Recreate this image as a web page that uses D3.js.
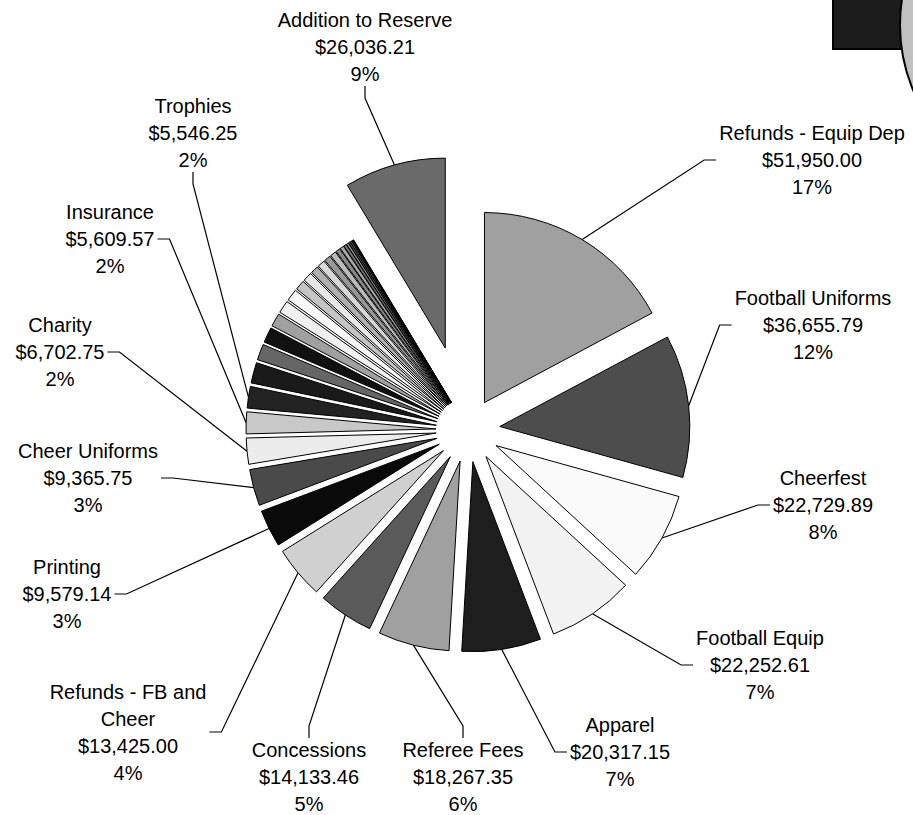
<!DOCTYPE html>
<html><head><meta charset="utf-8">
<script src="https://cdn.jsdelivr.net/npm/d3@7"></script>
<style>
body{margin:0;background:#fff}
svg{display:block}
text{font-family:"Liberation Sans",Arial,sans-serif;font-size:20px;fill:#000}
</style>
</head><body>
<svg id="chart" width="913" height="815"></svg>
<script>
// ---- data ----
const categories = [
  "Refunds - Equip Dep","Football Uniforms","Cheerfest","Football Equip","Apparel",
  "Referee Fees","Concessions","Refunds - FB and Cheer","Printing","Cheer Uniforms",
  "Charity","Insurance","Trophies",
  "Other 1","Other 2","Other 3","Other 4","Other 5","Other 6","Other 7","Other 8",
  "Other 9","Other 10","Other 11","Other 12","Other 13","Other 14","Other 15","Other 16",
  "Other 17","Other 18","Other 19","Other 20","Other 21",
  "Addition to Reserve"
];
const values = [
  51950.00, 36655.79, 22729.89, 22252.61, 20317.15,
  18267.35, 14133.46, 13425.00, 9579.14, 9365.75,
  6702.75, 5609.57, 5546.25,
  5300, 4100, 3950, 3400, 3250, 3050, 2500, 2350,
  2000, 1900, 1650, 1500, 1150, 950, 700, 550,
  450, 350, 250, 150, 100,
  26036.21
];
const shades = [
  "#a0a0a0","#4d4d4d","#fafafa","#f2f2f2","#1e1e1e",
  "#a0a0a0","#5a5a5a","#d0d0d0","#0a0a0a","#4a4a4a",
  "#ececec","#c8c8c8","#222222",
  "#1a1a1a","#666666","#111111","#a0a0a0","#f0f0f0","#f8f8f8","#c4c4c4","#e6e6e6",
  "#b0b0b0","#d8d8d8","#999999","#bbbbbb","#888888","#aaaaaa","#777777","#999999",
  "#555555","#888888","#333333","#666666","#222222",
  "#6a6a6a"
];
// which slices carry a data label, and where the label box sits (layout only)
const labelLayout = {
  "Refunds - Equip Dep":   {x:812, y:160, side:"l"},
  "Football Uniforms":     {x:813, y:325, side:"l"},
  "Cheerfest":             {x:823, y:505, side:"l"},
  "Football Equip":        {x:760, y:665, side:"l"},
  "Apparel":               {x:620, y:752, side:"l"},
  "Referee Fees":          {x:463, y:777, side:"t"},
  "Concessions":           {x:309, y:777, side:"t"},
  "Refunds - FB and Cheer":{x:128, y:732, side:"r"},
  "Printing":              {x:67,  y:594, side:"r"},
  "Cheer Uniforms":        {x:88,  y:478, side:"r"},
  "Charity":               {x:60,  y:352, side:"r"},
  "Insurance":             {x:110, y:239, side:"r"},
  "Trophies":              {x:193, y:133, side:"b"},
  "Addition to Reserve":   {x:365, y:47,  side:"b"}
};

// ---- layout ----
const cx = 468, cy = 430, R = 190;
const explodeDefault = 32, explodeBig = 85;
const lineH = 27;

const svg = d3.select("#chart");

// decorative partial shapes in the top-right corner
svg.append("rect").attr("x",833).attr("y",-5).attr("width",90).attr("height",54)
  .attr("fill","#1c1c1c").attr("stroke","#000").attr("stroke-width",2);
svg.append("circle").attr("cx",1069).attr("cy",25).attr("r",169)
  .attr("fill","#c0c0c0").attr("stroke","#000").attr("stroke-width",2);

const data = categories.map((c,i)=>({name:c, value:values[i], color:shades[i]}));
const total = d3.sum(values);
const pie = d3.pie().value(d=>d.value).sort(null).startAngle(0).endAngle(2*Math.PI);
const arcs = pie(data);
const arcGen = d3.arc().innerRadius(0).outerRadius(R);

function offset(a){
  const mid = (a.startAngle + a.endAngle)/2;
  const e = a.data.name === "Addition to Reserve" ? explodeBig : explodeDefault;
  return [cx + e*Math.sin(mid), cy - e*Math.cos(mid)];
}

const leadG = svg.append("g");
const g = svg.append("g");
g.selectAll("path").data(arcs).join("path")
  .attr("transform", d=>{const o=offset(d); return `translate(${o[0]},${o[1]})`;})
  .attr("d", arcGen)
  .attr("fill", d=>d.data.color)
  .attr("stroke","#000").attr("stroke-width",1).attr("stroke-linejoin","round");

const fmtMoney = d3.format("$,.2f");
const labG = svg.append("g");

function wrap(str, maxW, tmp){
  const words = str.split(" ");
  const lines = []; let cur = "";
  words.forEach(w=>{
    const test = cur ? cur + " " + w : w;
    tmp.text(test);
    if (tmp.node().getComputedTextLength() > maxW && cur){ lines.push(cur); cur = w; }
    else cur = test;
  });
  if (cur) lines.push(cur);
  return lines;
}

const tmp = svg.append("text").attr("x",-1000).attr("y",-1000);

arcs.forEach(a=>{
  const L = labelLayout[a.data.name];
  if (!L) return;
  const lines = wrap(a.data.name, 200, tmp);
  lines.push(fmtMoney(a.data.value));
  lines.push(Math.round(a.data.value/total*100) + "%");
  const n = lines.length;
  const top = L.y - (n-1)*lineH/2;
  const t = labG.append("text").attr("text-anchor","middle");
  lines.forEach((s,i)=>{
    t.append("tspan").attr("x",L.x).attr("y", top + i*lineH + 7).text(s);
  });
  const bb = t.node().getBBox();
  const o = offset(a);
  const mid = (a.startAngle + a.endAngle)/2;
  const ap = [o[0] + R*Math.sin(mid), o[1] - R*Math.cos(mid)];
  let p1, p2;
  if (L.side === "l"){ p1=[bb.x-3, L.y]; p2=[bb.x-15, L.y]; }
  else if (L.side === "r"){ p1=[bb.x+bb.width+3, L.y]; p2=[bb.x+bb.width+15, L.y]; }
  else if (L.side === "t"){ p1=[L.x, bb.y-1]; p2=[L.x, bb.y-13]; }
  else { p1=[L.x, bb.y+bb.height+1]; p2=[L.x, bb.y+bb.height+13]; }
  leadG.append("path")
    .attr("d", d3.line()([p1,p2,ap]))
    .attr("fill","none").attr("stroke","#000").attr("stroke-width",1.2);
});
tmp.remove();
</script>
</body></html>
